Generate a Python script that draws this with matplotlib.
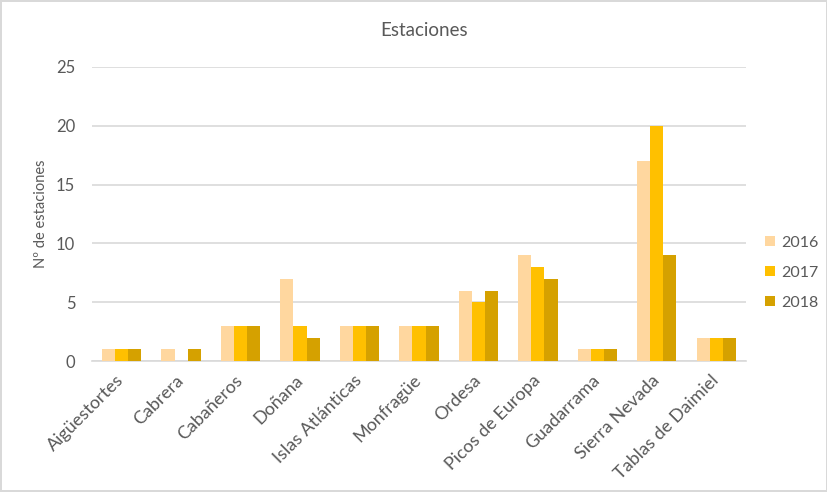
import matplotlib.pyplot as plt
import numpy as np

parques = ['Aigüestortes', 'Cabrera', 'Cabañeros', 'Doñana', 'Islas Atlánticas',
           'Monfragüe', 'Ordesa', 'Picos de Europa', 'Guadarrama', 'Sierra Nevada',
           'Tablas de Daimiel']
v2016 = [1, 1, 3, 7, 3, 3, 6, 9, 1, 17, 2]
v2017 = [1, 0, 3, 3, 3, 3, 5, 8, 1, 20, 2]
v2018 = [1, 1, 3, 2, 3, 3, 6, 7, 1, 9, 2]
anios = ['2016', '2017', '2018']
colores = ['#FFD79F', '#FFC000', '#D5A100']

plt.rcParams['font.family'] = ['Lato', 'DejaVu Sans']
gris = '#595959'

fig = plt.figure(figsize=(8.28, 4.92), dpi=100)
fig.patch.set_edgecolor('#D9D9D9')
fig.patch.set_linewidth(1.5)
ax = fig.add_axes([0.111, 0.266, 0.79, 0.598])

x = np.arange(len(parques))
w = 0.22
for i, (vals, c, lab) in enumerate(zip([v2016, v2017, v2018], colores, anios)):
    ax.bar(x + (i - 1) * w, vals, w, color=c, label=lab, zorder=3)

ax.set_xlim(-0.5, len(parques) - 0.5)
ax.set_ylim(0, 25)
ax.set_yticks(range(0, 26, 5))
ax.grid(axis='y', color='#D9D9D9', linewidth=1.2, zorder=0)
for s in ['top', 'right', 'left']:
    ax.spines[s].set_visible(False)
ax.spines['bottom'].set_color('#D9D9D9')
ax.spines['bottom'].set_linewidth(1.2)
ax.tick_params(length=0, colors=gris)
ax.tick_params(axis='y', pad=12, labelsize=12)
ax.tick_params(axis='x', pad=12, labelsize=13)
ax.set_xticks(x)
ax.set_xticklabels(parques, rotation=45, ha='right', va='center', rotation_mode='anchor')
ax.set_ylabel('Nº de estaciones', color=gris, fontsize=10.5, labelpad=6)

fig.text(0.512, 0.937, 'Estaciones', ha='center', va='center', color=gris, fontsize=13.5)

ax.legend(loc='center left', bbox_to_anchor=(1.0, 0.3), frameon=False,
          labelcolor=gris, fontsize=11.5, handlelength=0.6, handleheight=0.6,
          labelspacing=1.0, handletextpad=0.4, borderaxespad=0.8)

fig.savefig('out.png', dpi=100)
